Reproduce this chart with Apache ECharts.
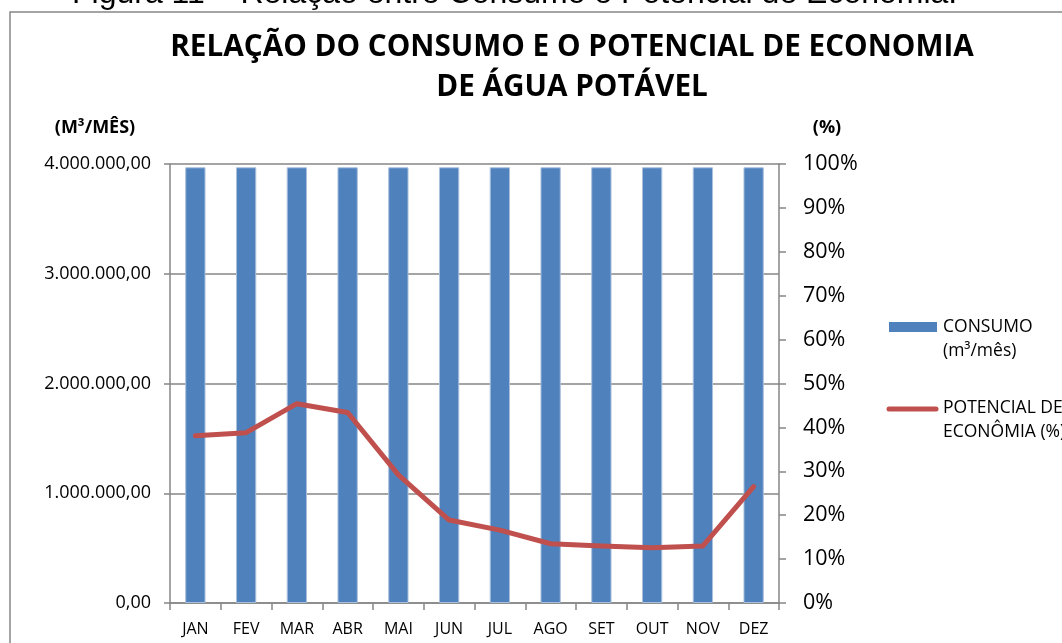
<!DOCTYPE html>
<html>
<head>
<meta charset="utf-8">
<script src="https://cdn.jsdelivr.net/npm/echarts@6/dist/echarts.min.js"></script>
<style>
  html, body { margin: 0; padding: 0; background: #ffffff; }
  #chart { width: 1062px; height: 643px; }
</style>
</head>
<body>
<div id="chart"></div>
<script>
// ---- data ----
const months = ['JAN', 'FEV', 'MAR', 'ABR', 'MAI', 'JUN', 'JUL', 'AGO', 'SET', 'OUT', 'NOV', 'DEZ'];
const consumo = [3970000, 3970000, 3970000, 3970000, 3970000, 3970000, 3970000, 3970000, 3970000, 3970000, 3970000, 3970000];
const potencial = [38.1, 38.8, 45.4, 43.4, 29.2, 18.9, 16.6, 13.5, 13.0, 12.6, 13.0, 26.5];
const leftTicks = [0, 1000000, 2000000, 3000000, 4000000];
const rightTicks = [0, 10, 20, 30, 40, 50, 60, 70, 80, 90, 100];
const seriesNames = ['CONSUMO\n(m³/mês)', 'POTENCIAL DE\nECONÔMIA (%)'];

const FONT = '"Open Sans", "DejaVu Sans", sans-serif';
const GRAY = '#868686';

function fmtBR(v) {
  const s = Math.round(v).toString().replace(/\B(?=(\d{3})+(?!\d))/g, '.');
  return s + ',00';
}

const chart = echarts.init(document.getElementById('chart'), null, { renderer: 'canvas' });

chart.setOption({
  backgroundColor: '#ffffff',
  animation: false,
  title: {
    text: 'RELAÇÃO DO CONSUMO E O POTENCIAL DE ECONOMIA\nDE ÁGUA POTÁVEL',
    left: 567,
    top: 23,
    textAlign: 'center',
    textStyle: {
      fontFamily: FONT,
      fontWeight: 'bold',
      fontSize: 29.7,
      lineHeight: 40,
      color: '#000000'
    }
  },
  grid: { left: 170, right: 283, top: 164, bottom: 40, containLabel: false },
  xAxis: {
    type: 'category',
    data: months,
    boundaryGap: true,
    axisLine: { show: true, lineStyle: { color: GRAY, width: 1.5 } },
    axisTick: { show: true, alignWithLabel: false, length: 7, lineStyle: { color: GRAY, width: 1.5 } },
    axisLabel: { fontFamily: FONT, fontSize: 16, color: '#000000', margin: 18 },
    splitLine: { show: false }
  },
  yAxis: [
    {
      type: 'value',
      min: leftTicks[0],
      max: leftTicks[leftTicks.length - 1],
      interval: leftTicks[1] - leftTicks[0],
      axisLine: { show: true, lineStyle: { color: GRAY, width: 1.5 } },
      axisTick: { show: true, length: 6, lineStyle: { color: GRAY, width: 1.5 } },
      axisLabel: { fontFamily: FONT, fontSize: 18, color: '#000000', margin: 19, formatter: fmtBR },
      splitLine: { show: true, lineStyle: { color: GRAY, width: 1.5 } }
    },
    {
      type: 'value',
      position: 'right',
      min: rightTicks[0],
      max: rightTicks[rightTicks.length - 1],
      interval: rightTicks[1] - rightTicks[0],
      axisLine: { show: true, lineStyle: { color: GRAY, width: 1.5 } },
      axisTick: { show: true, length: 7, lineStyle: { color: GRAY, width: 1.5 } },
      axisLabel: { fontFamily: FONT, fontSize: 21.5, color: '#000000', margin: 24, formatter: v => v + '%' },
      splitLine: { show: false }
    }
  ],
  series: [
    {
      name: seriesNames[0],
      type: 'bar',
      yAxisIndex: 0,
      data: consumo,
      barWidth: '40%',
      itemStyle: { color: '#4F81BD', borderColor: '#A9C0DD', borderWidth: 1 }
    },
    {
      name: seriesNames[1],
      type: 'line',
      yAxisIndex: 1,
      data: potencial,
      showSymbol: false,
      symbol: 'none',
      lineStyle: { color: '#C0504D', width: 5, cap: 'round', join: 'round' },
      itemStyle: { color: '#C0504D' }
    }
  ],
  graphic: [
    { type: 'rect', shape: { x: 10, y: 12, width: 1200, height: 800 }, style: { fill: 'none', stroke: GRAY, lineWidth: 1.5 }, silent: true },
    { type: 'text', x: 72, y: 10, style: { text: 'Figura 11 – Relação entre Consumo e Potencial de Economia.', font: '32px "Liberation Sans", Arial, sans-serif', fill: '#000000', textVerticalAlign: 'bottom' } },
    { type: 'text', x: 95, y: 128, style: { text: '(M³/MÊS)', font: 'bold 18px "Open Sans", sans-serif', fill: '#000000', textAlign: 'center', textVerticalAlign: 'middle' } },
    { type: 'text', x: 827, y: 128, style: { text: '(%)', font: 'bold 18px "Open Sans", sans-serif', fill: '#000000', textAlign: 'center', textVerticalAlign: 'middle' } },
    // legend
    { type: 'rect', shape: { x: 889, y: 322, width: 48, height: 10 }, style: { fill: '#4F81BD' } },
    { type: 'text', x: 943, y: 327, style: { text: 'CONSUMO', font: '17.5px "Open Sans", sans-serif', fill: '#000000', textVerticalAlign: 'middle' } },
    { type: 'text', x: 943, y: 351, style: { text: '(m³/mês)', font: '17.5px "Open Sans", sans-serif', fill: '#000000', textVerticalAlign: 'middle' } },
    { type: 'line', shape: { x1: 889, y1: 409, x2: 936, y2: 409 }, style: { stroke: '#C0504D', lineWidth: 5, lineCap: 'round' } },
    { type: 'text', x: 943, y: 408, style: { text: 'POTENCIAL DE', font: '17.5px "Open Sans", sans-serif', fill: '#000000', textVerticalAlign: 'middle' } },
    { type: 'text', x: 943, y: 432, style: { text: 'ECONÔMIA (%)', font: '17.5px "Open Sans", sans-serif', fill: '#000000', textVerticalAlign: 'middle' } }
  ]
});
</script>
</body>
</html>
